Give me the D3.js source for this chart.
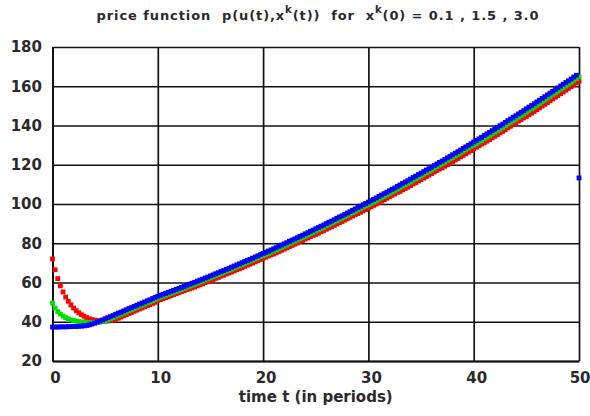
<!DOCTYPE html>
<html>
<head>
<meta charset="utf-8">
<script src="https://cdn.jsdelivr.net/npm/d3@7"></script>
<style>
  html, body { margin: 0; padding: 0; background: #fff; }
  svg { display: block; }
  text { font-family: "DejaVu Sans", Verdana, sans-serif; fill: #2a2a2a; }
</style>
</head>
<body>
<svg id="chart" width="590" height="416"></svg>
<script>
// time runs 0..50 in quarter periods
const tStep = 0.25;
const xTicks = [0, 10, 20, 30, 40, 50];
const yTicks = [20, 40, 60, 80, 100, 120, 140, 160, 180];

// x^k(0) = 0.1 (red)
const priceRed = [
  72.0, 66.5, 62.0, 58.3, 55.2, 52.6, 50.4, 48.6, 47.0, 45.7, 44.6, 43.6, 42.8, 42.1, 41.5, 41.1,
  40.8, 40.6, 40.4, 40.3, 40.3, 40.4, 40.6, 40.9, 41.3, 41.8, 42.4, 43.0,
  43.6, 44.2, 44.7, 45.3, 45.9, 46.5, 47.0, 47.6, 48.2, 48.7, 49.3, 49.9,
  50.8, 51.3, 51.8, 52.3, 52.8, 53.3, 53.8, 54.3, 54.8, 55.3, 55.8, 56.4,
  56.7, 57.2, 57.7, 58.3, 58.8, 59.3, 59.9, 60.4, 61.0, 61.5, 62.1, 62.6, 63.2, 63.7, 64.3, 64.8,
  65.3, 65.9, 66.5, 67.0, 67.6, 68.2, 68.8, 69.3, 69.9, 70.5, 71.1, 71.7, 72.3, 72.9, 73.5, 74.1,
  74.5, 75.1, 75.8, 76.4, 77.0, 77.6, 78.3, 78.9, 79.5, 80.1, 80.8, 81.4, 82.1, 82.7, 83.4, 84.0,
  84.5, 85.1, 85.8, 86.4, 87.1, 87.8, 88.4, 89.1, 89.8, 90.5, 91.1, 91.8, 92.5, 93.2, 93.9, 94.6,
  95.1, 95.8, 96.5, 97.2, 97.9, 98.6, 99.3, 100.0, 100.8, 101.5, 102.2, 102.9, 103.7, 104.4, 105.1, 105.9,
  106.4, 107.2, 107.9, 108.6, 109.4, 110.2, 110.9, 111.7, 112.4, 113.2, 114.0, 114.7, 115.5, 116.3, 117.1, 117.9,
  118.4, 119.2, 120.0, 120.8, 121.6, 122.4, 123.2, 124.0, 124.8, 125.6, 126.4, 127.2, 128.1, 128.9, 129.7, 130.5,
  131.2, 132.0, 132.8, 133.7, 134.5, 135.3, 136.2, 137.0, 137.9, 138.8, 139.6, 140.5, 141.3, 142.2, 143.0, 143.9,
  144.6, 145.5, 146.3, 147.2, 148.1, 149.0, 149.9, 150.8, 151.7, 152.6, 153.5, 154.4, 155.3, 156.2, 157.1, 158.0,
  158.9, 159.8, 160.8, 161.7, 162.6
];

// x^k(0) = 1.5 (green)
const priceGreen = [
  49.5, 47.0, 45.2, 43.9, 42.9, 42.1, 41.5, 41.0, 40.6, 40.3, 40.1, 39.9, 39.8, 39.7, 39.6, 39.5,
  39.5, 39.6, 39.8, 40.1,
  40.4, 41.0, 41.5, 42.1, 42.7, 43.3, 43.8, 44.4, 45.0, 45.6, 46.1, 46.7, 47.3, 47.9, 48.4, 49.0,
  49.6, 50.1, 50.7, 51.3,
  52.0, 52.5, 53.0, 53.5, 54.0, 54.5, 55.0, 55.5, 56.0, 56.5, 57.0, 57.6, 58.1, 58.6, 59.1, 59.7,
  60.2, 60.7, 61.3, 61.8, 62.4, 62.9, 63.5, 64.0, 64.6, 65.1, 65.7, 66.2, 66.8, 67.4, 68.0, 68.5,
  69.1, 69.7, 70.3, 70.8, 71.4, 72.0, 72.6, 73.2,
  73.6, 74.2, 74.8, 75.4, 76.0, 76.6, 77.3, 77.9, 78.5, 79.1, 79.8, 80.4, 81.0, 81.6, 82.3, 82.9,
  83.6, 84.2, 84.9, 85.5, 86.2, 86.8, 87.5, 88.1, 88.8, 89.5, 90.1, 90.8, 91.5, 92.2, 92.8, 93.5,
  94.2, 94.9, 95.6, 96.3, 97.0, 97.7, 98.4, 99.1,
  99.6, 100.3, 101.0, 101.7, 102.5, 103.2, 103.9, 104.6, 105.4, 106.1, 106.8, 107.6, 108.3, 109.1, 109.8, 110.5,
  111.3, 112.1, 112.8, 113.6, 114.3, 115.1, 115.9, 116.6, 117.4, 118.2, 119.0, 119.8, 120.5, 121.3, 122.1, 122.9,
  123.7, 124.5, 125.3, 126.1, 126.9, 127.7, 128.5, 129.3,
  129.9, 130.7, 131.5, 132.3, 133.2, 134.0, 134.8, 135.7, 136.5, 137.3, 138.2, 139.0, 139.9, 140.8, 141.6, 142.5,
  143.3, 144.2, 145.0, 145.9, 146.8, 147.7, 148.5, 149.4, 150.3, 151.2, 152.1, 153.0, 153.9, 154.8, 155.7, 156.6,
  157.5, 158.4, 159.3, 160.2, 161.1, 162.0, 163.0, 163.9, 164.8
];

// x^k(0) = 3.0 (blue) - last point really sits at 113
const priceBlue = [
  37.3, 37.3, 37.3, 37.4, 37.4, 37.4, 37.5, 37.5, 37.6, 37.6, 37.7, 37.8, 37.9, 38.1, 38.4, 38.8,
  39.3, 39.8, 40.3, 40.9, 41.5, 42.1, 42.6, 43.2, 43.8, 44.4, 44.9, 45.5, 46.1, 46.7, 47.2, 47.8,
  48.4, 49.0, 49.5, 50.1, 50.7, 51.2, 51.8, 52.4,
  53.0, 53.5, 54.0, 54.5, 55.0, 55.5, 56.0, 56.5, 57.0, 57.5, 58.0, 58.6, 59.1, 59.6, 60.1, 60.7,
  61.2, 61.7, 62.3, 62.8, 63.4, 63.9, 64.5, 65.0, 65.6, 66.1, 66.7, 67.2, 67.8, 68.4, 69.0, 69.5,
  70.1, 70.7, 71.3, 71.8, 72.4, 73.0, 73.6, 74.2,
  74.8, 75.4, 76.0, 76.6, 77.2, 77.8, 78.5, 79.1, 79.7, 80.3, 81.0, 81.6, 82.2, 82.8, 83.5, 84.1,
  84.8, 85.4, 86.1, 86.7, 87.4, 88.0, 88.7, 89.3, 90.0, 90.7, 91.3, 92.0, 92.7, 93.4, 94.0, 94.7,
  95.4, 96.1, 96.8, 97.5, 98.2, 98.9, 99.6, 100.3,
  101.0, 101.7, 102.4, 103.1, 103.9, 104.6, 105.3, 106.0, 106.8, 107.5, 108.2, 109.0, 109.7, 110.5, 111.2, 111.9,
  112.7, 113.5, 114.2, 115.0, 115.7, 116.5, 117.3, 118.0, 118.8, 119.6, 120.4, 121.2, 121.9, 122.7, 123.5, 124.3,
  125.1, 125.9, 126.7, 127.5, 128.3, 129.1, 129.9, 130.7,
  131.6, 132.4, 133.2, 134.0, 134.9, 135.7, 136.5, 137.4, 138.2, 139.0, 139.9, 140.7, 141.6, 142.5, 143.3, 144.2,
  145.0, 145.9, 146.7, 147.6, 148.5, 149.4, 150.2, 151.1, 152.0, 152.9, 153.8, 154.7, 155.6, 156.5, 157.4, 158.3,
  159.2, 160.1, 161.0, 161.9, 162.8, 163.7, 164.7, 165.6, 113.3
];

const series = [
  { name: "0.1", color: "#ff0000", values: priceRed },
  { name: "1.5", color: "#00e000", values: priceGreen },
  { name: "3.0", color: "#0000ff", values: priceBlue },
];

const svg = d3.select("#chart");
const plotLeft = 52.5, plotRight = 579, plotTop = 47, plotBottom = 361;

const x = d3.scaleLinear().domain([0, 50]).range([plotLeft, plotRight]);
const y = d3.scaleLinear().domain([20, 180]).range([plotBottom, plotTop]);

// grid + axes
const gx = svg.append("g")
  .attr("transform", `translate(0,${plotBottom})`)
  .call(d3.axisBottom(x).tickValues(xTicks).tickSize(-(plotBottom - plotTop)).tickSizeOuter(0).tickPadding(11));
const gy = svg.append("g")
  .attr("transform", `translate(${plotLeft},0)`)
  .call(d3.axisLeft(y).tickValues(yTicks).tickSize(-(plotRight - plotLeft)).tickSizeOuter(0).tickPadding(10.5));

[gx, gy].forEach((g) => {
  g.selectAll(".tick line").attr("stroke", "#111").attr("stroke-width", 1.7);
  g.select(".domain").attr("stroke", "#111").attr("stroke-width", 2);
  g.selectAll("text")
    .attr("fill", "#2a2a2a")
    .style("font-size", "15px")
    .style("font-weight", "bold");
});
gx.selectAll("text").attr("dx", 2.5);
// the last label sits flush against the right edge
gx.selectAll(".tick text").filter((d) => d === 50)
  .attr("text-anchor", "end")
  .attr("dx", 0)
  .attr("x", 590 - x(50));

// markers, red first so blue ends up on top
const size = 4.8;
series.forEach((s) => {
  svg.append("g")
    .attr("fill", s.color)
    .selectAll("rect")
    .data(s.values)
    .join("rect")
    .attr("x", (d, i) => x(i * tStep) - size / 2)
    .attr("y", (d) => y(d) - size / 2)
    .attr("width", size)
    .attr("height", size);
});

// title
const title = svg.append("text")
  .attr("x", 318)
  .attr("y", 20)
  .attr("text-anchor", "middle")
  .style("font-size", "13px")
  .style("font-weight", "bold")
  .style("letter-spacing", "0.9px")
  .style("white-space", "pre");
title.append("tspan").text("price function  p(u(t),x");
title.append("tspan").attr("dy", -7).style("font-size", "10px").text("k");
title.append("tspan").attr("dy", 7).text("(t))  for  x");
title.append("tspan").attr("dy", -7).style("font-size", "10px").text("k");
title.append("tspan").attr("dy", 7).text("(0) = 0.1 , 1.5 , 3.0");

// x axis label
svg.append("text")
  .attr("x", (plotLeft + plotRight) / 2)
  .attr("y", 402)
  .attr("text-anchor", "middle")
  .style("font-size", "15px")
  .style("font-weight", "bold")
  .text("time t (in periods)");
</script>
</body>
</html>
